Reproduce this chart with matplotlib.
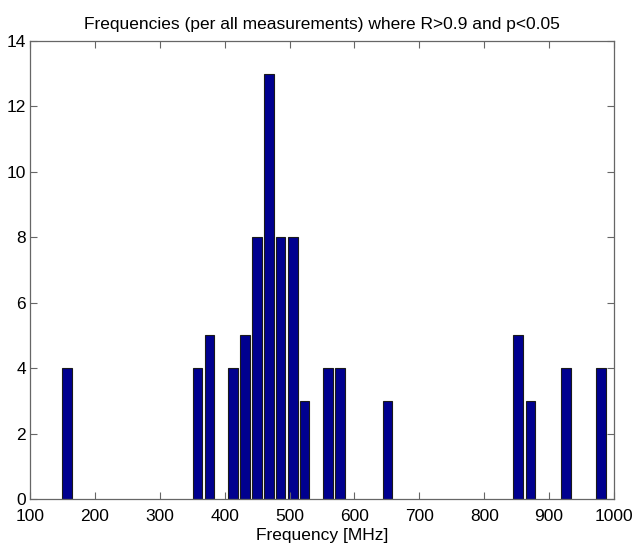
import matplotlib
matplotlib.use("Agg")
import matplotlib.pyplot as plt

# Histogram bin centres (MHz) and counts
freq_mhz = [157, 358, 377, 413, 431, 450, 468, 486, 505, 523, 559, 578, 651, 852, 871, 926, 980]
counts = [4, 4, 5, 4, 5, 8, 13, 8, 8, 3, 4, 4, 3, 5, 3, 4, 4]
bin_step = 18.3

x_ticks = [100, 200, 300, 400, 500, 600, 700, 800, 900, 1000]
y_ticks = [0, 2, 4, 6, 8, 10, 12, 14]

plt.rcParams['font.family'] = ['Liberation Sans', 'DejaVu Sans']

fig = plt.figure(figsize=(6.35, 5.48), dpi=100)
ax = fig.add_axes([30 / 635, 1 - 499 / 548, 584 / 635, 458 / 548])

ax.bar(freq_mhz, counts, width=0.8 * bin_step, color='#00008f',
       edgecolor='#1a1a1a', linewidth=0.8)

ax.set_xlim(100, 1000)
ax.set_ylim(0, 14)
ax.set_xticks(x_ticks)
ax.set_yticks(y_ticks)
ax.tick_params(direction='in', top=True, right=True, length=5, width=0.8,
               color='#666666', labelsize=12.5)
ax.tick_params(axis='x', pad=7)
ax.tick_params(axis='y', pad=3)
for s in ax.spines.values():
    s.set_color('#666666')
    s.set_linewidth(0.9)

ax.set_xlabel('Frequency [MHz]', fontsize=12.5, labelpad=3)
ax.set_title('Frequencies (per all measurements) where R>0.9 and p<0.05',
             fontsize=12.5, pad=9)

fig.savefig('out.png', dpi=100)
